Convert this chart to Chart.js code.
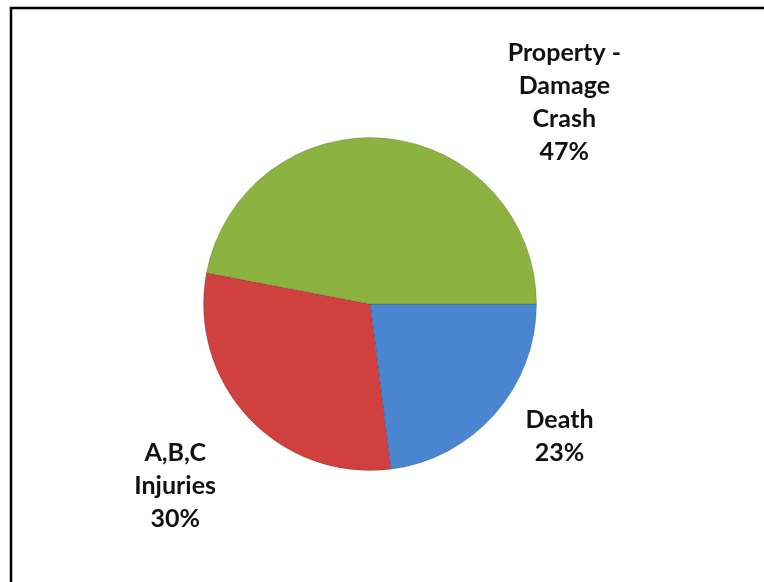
<!DOCTYPE html>
<html>
<head>
<meta charset="utf-8">
<script src="https://cdn.jsdelivr.net/npm/chart.js@4/dist/chart.umd.min.js"></script>
<style>
  html, body { margin: 0; padding: 0; background: #fff; }
  #wrap { position: relative; width: 764px; height: 582px; }
</style>
</head>
<body>
<div id="wrap"><canvas id="chart"></canvas></div>
<script>
// chart data
const categories = ['Death', 'A,B,C Injuries', 'Property - Damage Crash'];
const labelLines = [['Death'], ['A,B,C', 'Injuries'], ['Property -', 'Damage', 'Crash']];
const shares = [23, 30, 47];
const baseColors = ['#4A86CF', '#D0403E', '#8CB33F'];
const edgeColors = ['#3E72B4', '#B53533', '#799C35'];

// where each label sits: angle (deg, clockwise from 3 o'clock) and distance in radii
const labelAngle = [35, 137, -46];
const labelDist = [1.39, 1.60, 1.68];

const shade = (ctx, i) => {
  const arc = ctx.chart.getDatasetMeta(0).data[i];
  if (!arc || !arc.outerRadius) return baseColors[i];
  const g = ctx.chart.ctx.createRadialGradient(arc.x, arc.y, 0, arc.x, arc.y, arc.outerRadius);
  g.addColorStop(0, baseColors[i]);
  g.addColorStop(0.88, baseColors[i]);
  g.addColorStop(1, edgeColors[i]);
  return g;
};

const frameAndLabels = {
  id: 'frameAndLabels',
  beforeDraw(chart) {
    const c = chart.ctx;
    c.save();
    c.strokeStyle = '#000';
    c.lineWidth = 2.5;
    c.beginPath();
    c.moveTo(11, chart.height);
    c.lineTo(11, 8);
    c.lineTo(chart.width, 8);
    c.stroke();
    c.restore();
  },
  afterDatasetsDraw(chart) {
    const c = chart.ctx;
    const meta = chart.getDatasetMeta(0);
    const total = shares.reduce((a, b) => a + b, 0);
    c.save();
    c.font = 'bold 25px Lato';
    c.fillStyle = '#111';
    c.textAlign = 'center';
    c.textBaseline = 'middle';
    meta.data.forEach((arc, i) => {
      const a = labelAngle[i] * Math.PI / 180;
      const d = arc.outerRadius * labelDist[i];
      const x = arc.x + Math.cos(a) * d;
      const y = arc.y + Math.sin(a) * d;
      const lines = labelLines[i].concat([Math.round(shares[i] / total * 100) + '%']);
      const lh = 33;
      const top = y - (lines.length - 1) * lh / 2;
      lines.forEach((t, k) => c.fillText(t, x, top + k * lh));
    });
    c.restore();
  }
};

const ctx = document.getElementById('chart').getContext('2d');
window.myChart = new Chart(ctx, {
  type: 'pie',
  data: {
    labels: categories,
    datasets: [{
      data: shares,
      backgroundColor: (c) => shade(c, c.dataIndex),
      borderColor: 'rgba(0,0,0,0.15)',
      borderWidth: 1,
      hoverOffset: 0
    }]
  },
  options: {
    responsive: true,
    maintainAspectRatio: false,
    animation: false,
    events: [],
    rotation: 90,
    layout: { padding: { left: 203, right: 227, top: 137, bottom: 111 } },
    plugins: {
      legend: { display: false },
      tooltip: { enabled: false }
    }
  },
  plugins: [frameAndLabels]
});
</script>
</body>
</html>
